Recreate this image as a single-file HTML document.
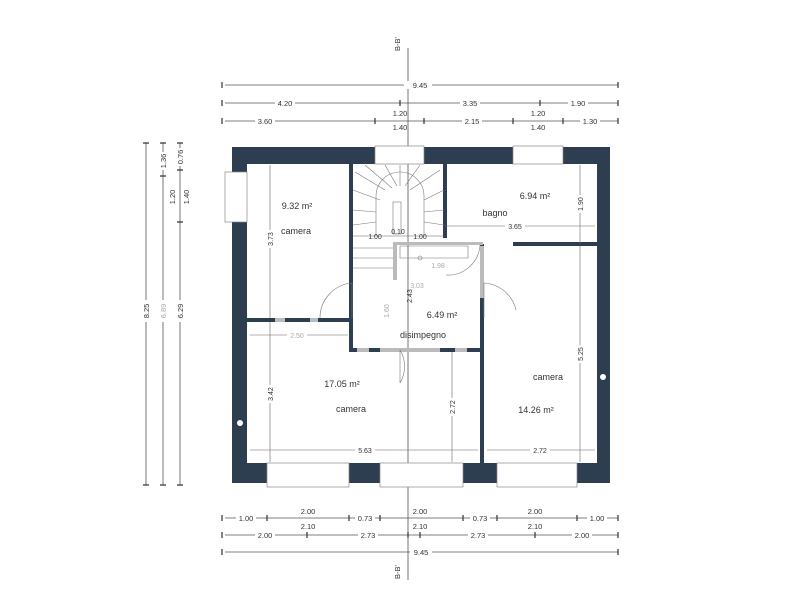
<!DOCTYPE html>
<html><head><style>body{margin:0;background:#fff}svg{display:block}text{font-family:"Liberation Sans",sans-serif;fill:#333}</style></head><body>
<svg width="800" height="600" viewBox="0 0 800 600" xmlns="http://www.w3.org/2000/svg">
<g stroke="#555" stroke-width="0.8" fill="none">
<!-- axis -->
<line x1="408" y1="48" x2="408" y2="580"/>
<!-- top dims -->
<line x1="225" y1="85" x2="618" y2="85"/>
<line x1="225" y1="103" x2="618" y2="103"/>
<line x1="225" y1="121" x2="618" y2="121"/>
<!-- bottom dims -->
<line x1="225" y1="518" x2="618" y2="518"/>
<line x1="225" y1="535" x2="618" y2="535"/>
<line x1="225" y1="552" x2="618" y2="552"/>
<!-- left dims -->
<line x1="146" y1="143" x2="146" y2="485"/>
<line x1="163" y1="143" x2="163" y2="485"/>
<line x1="180" y1="143" x2="180" y2="485"/>
</g>
<g stroke="#333" stroke-width="1.2">
<path d="M222 82v6M618 82v6M222 100v6M400 100v6M540 100v6M618 100v6M222 118v6M375 118v6M424 118v6M513 118v6M563 118v6M618 118v6"/>
<path d="M222 515v6M267 515v6M349 515v6M380 515v6M463 515v6M497 515v6M577 515v6M618 515v6M222 532v6M307 532v6M408 532v6M420 532v6M535 532v6M618 532v6M222 549v6M618 549v6"/>
<path d="M143 143h6M143 485h6M160 143h6M160 176h6M160 485h6M177 143h6M177 170h6M177 222h6M177 485h6"/>
</g>
<g font-size="7.5" text-anchor="middle">
<rect x="404" y="81" width="28" height="8" fill="#fff"/><text x="420" y="88">9.45</text>
<rect x="275" y="99" width="20" height="8" fill="#fff"/><text x="285" y="106">4.20</text>
<rect x="460" y="99" width="20" height="8" fill="#fff"/><text x="470" y="106">3.35</text>
<rect x="568" y="99" width="20" height="8" fill="#fff"/><text x="578" y="106">1.90</text>
<text x="400" y="116">1.20</text><text x="538" y="116">1.20</text>
<rect x="255" y="117" width="20" height="8" fill="#fff"/><text x="265" y="124">3.60</text>
<rect x="462" y="117" width="20" height="8" fill="#fff"/><text x="472" y="124">2.15</text>
<rect x="580" y="117" width="20" height="8" fill="#fff"/><text x="590" y="124">1.30</text>
<text x="400" y="130">1.40</text><text x="538" y="130">1.40</text>
<rect x="236" y="514" width="20" height="8" fill="#fff"/><text x="246" y="521">1.00</text>
<text x="308" y="514">2.00</text><text x="420" y="514">2.00</text><text x="535" y="514">2.00</text>
<rect x="355" y="514" width="20" height="8" fill="#fff"/><text x="365" y="521">0.73</text>
<rect x="470" y="514" width="20" height="8" fill="#fff"/><text x="480" y="521">0.73</text>
<rect x="587" y="514" width="20" height="8" fill="#fff"/><text x="597" y="521">1.00</text>
<text x="308" y="529">2.10</text><text x="420" y="529">2.10</text><text x="535" y="529">2.10</text>
<rect x="255" y="531" width="20" height="8" fill="#fff"/><text x="265" y="538">2.00</text>
<rect x="358" y="531" width="20" height="8" fill="#fff"/><text x="368" y="538">2.73</text>
<rect x="468" y="531" width="20" height="8" fill="#fff"/><text x="478" y="538">2.73</text>
<rect x="572" y="531" width="20" height="8" fill="#fff"/><text x="582" y="538">2.00</text>
<rect x="410" y="548" width="22" height="8" fill="#fff"/><text x="421" y="555">9.45</text>
</g>
<g font-size="7.5" text-anchor="middle">
<rect x="141" y="300" width="10" height="22" fill="#fff"/><text transform="translate(149,311) rotate(-90)">8.25</text>
<rect x="158" y="300" width="10" height="22" fill="#fff"/><text transform="translate(166,311) rotate(-90)" style="fill:#aaa">6.89</text>
<rect x="175" y="300" width="10" height="22" fill="#fff"/><text transform="translate(183,311) rotate(-90)">6.29</text>
<rect x="158" y="152" width="10" height="18" fill="#fff"/><text transform="translate(166,161) rotate(-90)">1.36</text>
<rect x="175" y="148" width="10" height="18" fill="#fff"/><text transform="translate(183,157) rotate(-90)">0.76</text>
<text transform="translate(175,197) rotate(-90)">1.20</text>
<text transform="translate(189,197) rotate(-90)">1.40</text>
<text transform="translate(400,44) rotate(-90)">B-B'</text>
<text transform="translate(400,572) rotate(-90)">B-B'</text>
</g>
<!-- outer walls -->
<path fill="#2d3e50" fill-rule="evenodd" d="M232 147H610V483H232Z M247 164H597V463H247Z"/>
<!-- windows -->
<g fill="#fff" stroke="#888" stroke-width="0.7">
<rect x="375" y="146" width="49" height="18"/>
<rect x="513" y="146" width="50" height="18"/>
<rect x="225" y="172" width="22" height="50"/>
<rect x="267" y="463" width="82" height="24"/>
<rect x="380" y="463" width="83" height="24"/>
<rect x="497" y="463" width="80" height="24"/>
</g>
<circle cx="240" cy="423" r="3" fill="#fff"/><circle cx="603" cy="377" r="3" fill="#fff"/>
<!-- interior walls -->
<g fill="#2d3e50">
<rect x="349" y="164" width="4" height="186"/>
<rect x="443" y="164" width="4" height="74"/>
<rect x="513" y="242" width="84" height="4"/>
<rect x="480" y="244" width="4" height="219"/>
<rect x="247" y="318" width="102" height="4"/>
<rect x="349" y="348" width="133" height="4"/>
</g>
<g fill="#bbb">
<rect x="393" y="244" width="4" height="36"/>
<rect x="393" y="242" width="90" height="3"/>
<rect x="275" y="318" width="10" height="4"/><rect x="310" y="318" width="8" height="4"/>
<rect x="357" y="348" width="12" height="4"/><rect x="380" y="348" width="60" height="4"/><rect x="455" y="348" width="12" height="4"/>
<rect x="480" y="246" width="4" height="52"/>
</g>
<!-- stairs -->
<g stroke="#777" stroke-width="0.6" fill="none">
<path d="M376 236V196A24 24 0 0 1 424 196V236"/>
<rect x="393" y="202" width="8" height="32"/>
<path d="M355 172L385 190M365 165L392 188M385 165L397 186M400 165L400 186M420 165L405 186M440 170L410 190M353 190L380 200M353 210L376 212M353 225L376 222M444 190L424 200M444 210L424 212M444 225L424 222"/>
<path d="M353 248H393M353 258H393M353 268H393"/>
<path d="M400 246h68v12h-68z"/>
<circle cx="420" cy="258" r="2"/>
<path d="M352 283A35 35 0 0 0 320 318M352 283V318"/>
<path d="M400 350A32 32 0 0 1 400 383M400 350V383"/>
<path d="M484 283A35 35 0 0 1 516 310M484 283V318"/>
<path d="M480 245A32 32 0 0 1 446 275"/>
</g>
<!-- room dims -->
<g stroke="#666" stroke-width="0.6">
<line x1="270" y1="165" x2="270" y2="318"/><line x1="270" y1="322" x2="270" y2="462"/>
<line x1="580" y1="165" x2="580" y2="244"/><line x1="580" y1="246" x2="580" y2="462"/>
<line x1="452" y1="352" x2="452" y2="462"/>
<line x1="250" y1="450" x2="478" y2="450"/><line x1="487" y1="450" x2="595" y2="450"/>
<line x1="445" y1="226" x2="595" y2="226"/><line x1="250" y1="335" x2="348" y2="335"/>
<line x1="353" y1="236" x2="444" y2="236"/>
</g>
<g font-size="7" text-anchor="middle">
<rect x="266" y="230" width="8" height="18" fill="#fff"/><text transform="translate(273,239) rotate(-90)">3.73</text>
<rect x="266" y="385" width="8" height="18" fill="#fff"/><text transform="translate(273,394) rotate(-90)">3.42</text>
<rect x="576" y="195" width="8" height="18" fill="#fff"/><text transform="translate(583,204) rotate(-90)">1.90</text>
<rect x="576" y="345" width="8" height="18" fill="#fff"/><text transform="translate(583,354) rotate(-90)">5.25</text>
<rect x="448" y="398" width="8" height="18" fill="#fff"/><text transform="translate(455,407) rotate(-90)">2.72</text>
<text transform="translate(412,296) rotate(-90)">2.43</text>
<text transform="translate(389,311) rotate(-90)" style="fill:#aaa">1.60</text>
<rect x="355" y="446" width="20" height="8" fill="#fff"/><text x="365" y="453">5.63</text>
<rect x="530" y="446" width="20" height="8" fill="#fff"/><text x="540" y="453">2.72</text>
<rect x="505" y="222" width="20" height="8" fill="#fff"/><text x="515" y="229">3.65</text>
<rect x="287" y="331" width="20" height="8" fill="#fff"/><text x="297" y="338" style="fill:#aaa">2.50</text>
<text x="375" y="239">1.00</text><text x="398" y="234">0.10</text><text x="420" y="239">1.00</text>
<text x="438" y="268" style="fill:#aaa">1.98</text><text x="417" y="288" style="fill:#aaa">3.03</text>
</g>
<g font-size="9" text-anchor="middle">
<text x="297" y="209">9.32 m²</text><text x="296" y="234">camera</text>
<text x="535" y="199">6.94 m²</text><text x="495" y="216">bagno</text>
<text x="442" y="318">6.49 m²</text><text x="423" y="338">disimpegno</text>
<text x="342" y="387">17.05 m²</text><text x="351" y="412">camera</text>
<text x="548" y="380">camera</text><text x="536" y="413">14.26 m²</text>
</g>
</svg>
</body></html>
